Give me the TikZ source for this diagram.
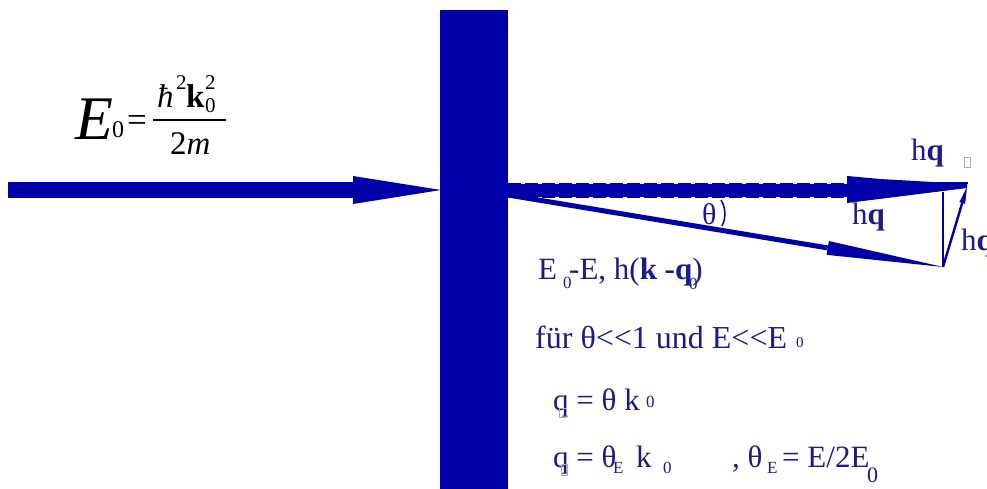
\documentclass[tikz,border=0pt]{standalone}
\usepackage{fontspec}
\setmainfont{Liberation Serif}
\usetikzlibrary{calc}
\definecolor{wallblue}{RGB}{0,0,168}
\definecolor{txtblue}{RGB}{26,26,140}
\definecolor{tofu}{RGB}{170,170,210}
\newcommand{\fsz}[1]{\fontsize{#1}{#1}\selectfont}
\tikzset{
  lbl/.style={anchor=base west, inner sep=0pt, text=txtblue, font=\fsz{31}},
  sub/.style={anchor=base west, inner sep=0pt, text=txtblue, font=\fsz{17}},
  frm/.style={anchor=base west, inner sep=0pt, text=black},
  thin vec/.style={draw=wallblue, line width=1.6pt},
  tofubox/.style={draw=tofu, line width=0.6pt},
}
\begin{document}
\begin{tikzpicture}[x=1pt,y=-1pt]
\useasboundingbox (0,0) rectangle (987,489);
\clip (0,0) rectangle (987,489);
% wall
\fill[wallblue] (440,10) rectangle (508,489);
% incoming beam
\fill[wallblue] (8,182) rectangle (356,198);
\fill[wallblue] (353,176) -- (441,190) -- (353,204) -- cycle;
% unscattered (dashed) beam
\coordinate (d0) at (508,190.5);
\coordinate (d1) at (850,190.5);
\draw[wallblue, line width=12pt] (d0) -- (d1);
\draw[wallblue, line width=15pt, dash pattern=on 13pt off 4pt] (d0) -- (d1);
\fill[wallblue] (847,176) -- (880,179) -- (967,184) -- (967,188) -- (847,203) -- cycle;
% scattered beam
\coordinate (s) at (508,195);
\coordinate (t) at (943,267);
\coordinate (b) at ($(s)!0.735!(t)$);
\draw[wallblue, line width=5pt] (s) -- (b);
\fill[wallblue] ($(b)!7pt!90:(t)$) -- (t) -- ($(b)!7pt!-90:(t)$) -- cycle;
% vector triangle
\coordinate (tr) at (968,183);
\coordinate (vt) at (943,192);
\draw[thin vec] (917,183) -- (tr);
\draw[thin vec] (vt) -- (t);
\coordinate (qh) at (967,187);
\coordinate (qb) at ($(t)!0.8!(qh)$);
\draw[wallblue, line width=2.4pt] (t) -- (qb);
\fill[wallblue] ($(qb)!3pt!90:(qh)$) -- (qh) -- ($(qb)!3pt!-90:(qh)$) -- cycle;
% theta arc
\draw[wallblue, line width=1.5pt] (721,200) .. controls (726,208) and (726,218) .. (722,226);
\node[lbl, font=\fsz{30}] at (702,224) {θ};
% hq labels
\node[lbl] at (852,224) {h\textbf{q}};
\node[lbl] at (911,161) {h\textbf{q}};
\draw[tofubox] (964,157) rectangle (970,167);
\node[lbl] at (961,250) {h\textbf{q}};
% formula E0
\node[frm, font=\fsz{62}\itshape] at (75,140) {E};
\node[frm, font=\fsz{24}] at (112,138) {0};
\node[frm, font=\fsz{35}] at (127,132) {=};
\draw[black, line width=1.3pt] (153,120) -- (226,120);
\node[frm, font=\fsz{33}\itshape] at (157,108) {ħ};
\node[frm, font=\fsz{21}] at (176,90) {2};
\node[frm, font=\fsz{33}\bfseries] at (186,108) {k};
\node[frm, font=\fsz{21}] at (205,90) {2};
\node[frm, font=\fsz{21}] at (205,113) {0};
\node[frm, font=\fsz{33}] at (170,155) {2\textit{m}};
% text lines
\node[lbl] at (538,279) {E};
\node[sub] at (563,288) {0};
\node[lbl] at (569,279) {-E, h(\textbf{k -q})};
\node[sub] at (689,289) {0};
\node[lbl, font=\fsz{32}] at (535,348) {für θ<{}<1 und E<{}<E};
\node[sub, font=\fsz{15}] at (796,347) {0};
\node[lbl] at (553,410) {q = θ k};
\node[sub] at (646,407) {0};
\draw[tofubox] (559,408) rectangle (566,417);
\node[lbl] at (553,467) {q = θ};
\node[sub] at (613,473) {E};
\node[lbl] at (636,467) {k};
\node[sub] at (663,473) {0};
\draw[tofubox] (561,464) rectangle (567,475);
\node[lbl] at (732,467) {, θ};
\node[sub] at (767,473) {E};
\node[lbl] at (782,467) {= E/2E};
\node[sub, font=\fsz{22}] at (867,482) {0};
\end{tikzpicture}
\end{document}
